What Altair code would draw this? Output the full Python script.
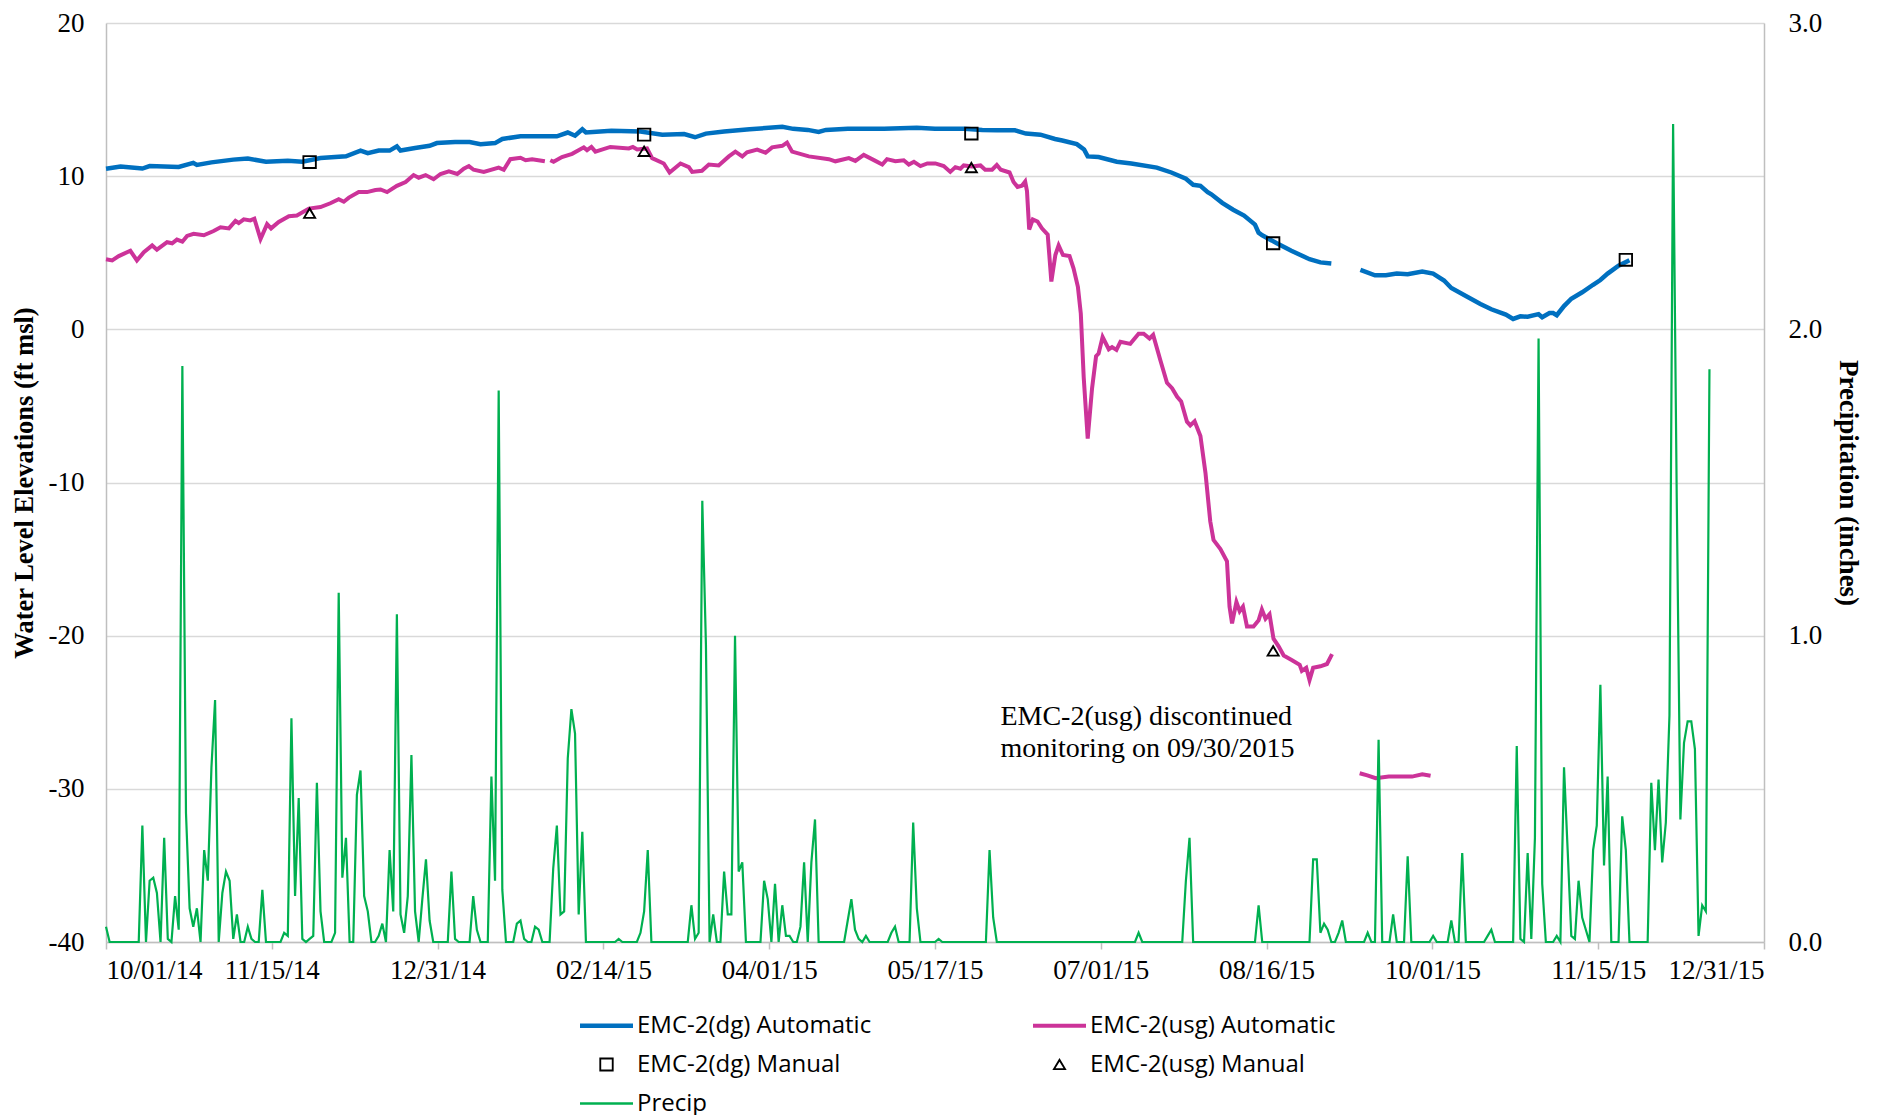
import altair as alt
import pandas as pd

# ---------------- data (x = days since 10/01/2014) ----------------
# legend order: column 1 then column 2
SERIES = ["EMC-2(dg) Automatic", "EMC-2(dg) Manual", "Precip",
          "EMC-2(usg) Automatic", "EMC-2(usg) Manual"]
SERIES_COLORS = ["#0070C0", "#000000", "#00B050", "#CC3399", "#000000"]

TICK_DAYS = [0, 45.6, 91.2, 136.8, 182.4, 228, 273.6, 319.2, 364.8, 410.4, 456]
TICK_LABELS = ["10/01/14", "11/15/14", "12/31/14", "02/14/15", "04/01/15", "05/17/15",
               "07/01/15", "08/16/15", "10/01/15", "11/15/15", "12/31/15"]

dg_auto_day_1 = [0, 4, 10, 12, 20, 24, 25, 29, 35, 39, 44, 50, 54, 59, 66, 70, 72, 75, 78, 80,
                 81, 85, 89, 91, 96, 100, 103, 107, 109, 114, 124, 127, 129, 131, 132, 139, 147,
                 153, 159, 162, 165, 170, 177, 186, 189, 193, 196, 198, 204, 214, 223, 228, 236,
                 241, 245, 250, 253, 257, 261, 263, 267, 269, 270, 273, 278, 282, 289, 293, 297,
                 299, 301, 303, 304, 307, 310, 313, 316, 317, 318, 322, 326, 331, 334, 337]
dg_auto_val_1 = [10.49, 10.63, 10.5, 10.66, 10.6, 10.87, 10.73, 10.9, 11.08, 11.15, 10.94, 11.0,
                 10.94, 11.18, 11.3, 11.67, 11.5, 11.67, 11.67, 11.95, 11.67, 11.84, 11.98, 12.16,
                 12.23, 12.23, 12.09, 12.16, 12.43, 12.6, 12.6, 12.85, 12.64, 13.06, 12.85, 12.96,
                 12.92, 12.71, 12.75, 12.54, 12.78, 12.92, 13.06, 13.23, 13.09, 13.02, 12.89, 13.02,
                 13.09, 13.09, 13.16, 13.09, 13.09, 13.02, 12.99, 12.99, 12.78, 12.71, 12.43, 12.33,
                 12.09, 11.74, 11.29, 11.25, 10.94, 10.83, 10.56, 10.24, 9.83, 9.44, 9.37, 8.96,
                 8.82, 8.26, 7.81, 7.43, 6.84, 6.31, 6.14, 5.62, 5.13, 4.58, 4.37, 4.3]
dg_auto_day_2 = [345, 349, 352, 355, 358, 362, 365, 368, 370, 374, 378, 381, 385, 387, 389, 391,
                 394, 395, 397, 398, 399, 401, 403, 406, 409, 411, 413, 416, 419]
dg_auto_val_2 = [3.88, 3.53, 3.53, 3.64, 3.6, 3.78, 3.64, 3.19, 2.7, 2.18, 1.66, 1.31, 0.96, 0.68,
                 0.85, 0.82, 0.99, 0.79, 1.06, 1.06, 0.92, 1.52, 2.0, 2.42, 2.91, 3.22, 3.64, 4.16,
                 4.51]

usg_auto_day_1 = [0, 1.7, 3.5, 6.7, 8.5, 10.4, 12.7, 14, 16.8, 18.2, 19.5, 21, 22.3, 24.1, 26.9,
                  29.6, 31.5, 33.8, 35.6, 36.5, 37.9, 39.7, 40.8, 42.5, 44.3, 45.4, 47.5, 50.3,
                  52.5, 55.8, 59, 61.7, 64, 65.4, 66.8, 69.5, 71.8, 74.1, 75.5, 77.3, 80, 82.4,
                  84.6, 86, 87.9, 90.1, 92, 94.3, 96.6, 98.4, 99.8, 101.1, 103.9, 108, 109.4,
                  111.2, 114, 115.4, 117.2, 120.7]
usg_auto_val_1 = [4.58, 4.5, 4.78, 5.13, 4.5, 5.03, 5.48, 5.2, 5.69, 5.62, 5.86, 5.72, 6.1, 6.24,
                  6.14, 6.42, 6.66, 6.59, 7.08, 6.94, 7.18, 7.11, 7.22, 5.9, 6.87, 6.59, 7.01, 7.39,
                  7.43, 7.88, 7.98, 8.23, 8.5, 8.33, 8.6, 8.96, 8.96, 9.1, 9.13, 8.96, 9.37, 9.62,
                  10.07, 9.9, 10.07, 9.8, 10.14, 10.31, 10.14, 10.49, 10.66, 10.42, 10.28, 10.56,
                  10.42, 11.11, 11.2, 11.04, 11.11, 10.97]
usg_auto_day_2 = [122.2, 123.1, 125.4, 128.2, 131.4, 132.3, 133.5, 134.6, 138.7, 143.8, 144.9,
                  146.1, 148.8, 150.2, 153.4, 155, 158, 160.3, 161.2, 163.9, 165.8, 168.5, 171.3,
                  173.1, 175, 176.3, 179.1, 181.4, 183.2, 186, 187.3, 188.7, 193.3, 198.8, 200.6,
                  204.3, 206.1, 208.4, 211.6, 213.5, 214.8, 217.1, 219.4, 220.8, 222.2, 224, 225.9,
                  228.1, 230.4, 232.2, 233.6, 235, 235.9, 238.2, 240.5, 241.8, 243.7, 245, 246.1,
                  248.5, 249.6, 250.7, 251.9, 252.8, 253.3, 253.9, 254.9, 256.2, 257.4, 259, 260,
                  261.1, 262, 263.2, 265, 266.1, 267.3, 268.1, 268.9, 270, 271.2, 272.3, 273,
                  274.1, 275.8, 276.7, 277.9, 279, 281.7, 284, 285.4, 287, 288, 290, 291.8, 293.2,
                  294.6, 295.7, 297.3, 298.2, 299.4, 301, 302.4, 303.7, 304.6, 306.5, 308.3, 309,
                  309.7, 310.9, 311.8, 312.7, 313.8, 315.6, 317, 317.9, 318.9, 320, 321.1, 322.5,
                  323.9, 326.2, 328.3, 328.9, 330.1, 331, 332, 334, 335.8, 337.2]
usg_auto_val_2 = [11.04, 10.94, 11.25, 11.46, 11.88, 11.7, 11.91, 11.6, 11.91, 11.81, 11.91, 11.74,
                  11.81, 11.18, 10.83, 10.24, 10.83, 10.59, 10.28, 10.35, 10.76, 10.7, 11.29, 11.6,
                  11.29, 11.56, 11.74, 11.53, 11.88, 11.98, 12.19, 11.6, 11.29, 11.11, 10.97,
                  11.18, 11.0, 11.39, 11.0, 10.76, 11.11, 10.97, 11.04, 10.76, 10.94, 10.66,
                  10.83, 10.83, 10.66, 10.28, 10.59, 10.49, 10.7, 10.63, 10.7, 10.42, 10.42,
                  10.73, 10.42, 10.24, 9.62, 9.3, 9.37, 9.65, 9.03, 6.52, 7.18, 7.04, 6.59, 6.18,
                  3.12, 4.85, 5.48, 4.85, 4.78, 3.98, 2.77, 1.03, -3.14, -7.14, -3.84, -1.75,
                  -1.58, -0.5, -1.3, -1.16, -1.34, -0.81, -0.95, -0.29, -0.29, -0.6, -0.36, -2.03,
                  -3.49, -3.84, -4.4, -4.71, -6.03, -6.27, -6.0, -6.97, -9.4, -12.53, -13.75,
                  -14.34, -15.14, -18.1, -19.2, -17.8, -18.4, -18.1, -19.4, -19.4, -19.0, -18.3,
                  -18.9, -18.6, -20.2, -20.7, -21.3, -21.6, -21.9, -22.3, -22.1, -22.9, -22.1,
                  -22.0, -21.85, -21.2]
usg_auto_day_3 = [344.8, 346.9, 349.2, 352.8, 356.5, 359.2, 362, 364.3]
usg_auto_val_3 = [-28.98, -29.12, -29.3, -29.2, -29.2, -29.2, -29.05, -29.15]

dg_manual_day = [56, 148, 238, 321, 418]
dg_manual_val = [10.92, 12.71, 12.78, 5.62, 4.54]
usg_manual_day = [56, 148, 238, 321]
usg_manual_val = [7.58, 11.62, 10.56, -21.0]

PRECIP_LAST_DAY = 441
precip_rain_day = [0, 10, 12, 13, 14, 16, 17, 19, 20, 21, 22, 23, 24, 25, 27, 28, 29, 30, 32, 33,
                   34, 35, 36, 39, 40, 43, 49, 50, 51, 52, 53, 54, 56, 57, 58, 59, 63, 64, 65, 66,
                   69, 70, 71, 72, 75, 76, 78, 79, 80, 81, 82, 83, 84, 85, 87, 88, 89, 95, 96, 101,
                   102, 106, 107, 108, 109, 113, 114, 115, 118, 119, 123, 124, 125, 126, 127, 128,
                   129, 130, 131, 141, 147, 148, 149, 161, 162, 163, 164, 165, 167, 170, 171, 172,
                   173, 174, 175, 181, 182, 184, 186, 187, 188, 191, 192, 194, 195, 204, 205, 206,
                   207, 209, 216, 217, 222, 223, 229, 243, 244, 284, 297, 298, 317, 332, 333, 334,
                   335, 336, 339, 340, 347, 350, 354, 358, 365, 370, 373, 380, 381, 388, 389, 391,
                   392, 393, 394, 395, 399, 401, 402, 403, 404, 405, 406, 407, 409, 410, 411, 412,
                   413, 417, 418, 425, 426, 427, 428, 429, 430, 431, 432, 433, 434, 435, 436, 437,
                   438, 439, 440, 441]
precip_rain_in = [0.05, 0.38, 0.20, 0.21, 0.16, 0.34, 0.01, 0.15, 0.04, 1.88, 0.42, 0.11, 0.05,
                  0.11, 0.30, 0.20, 0.57, 0.79, 0.16, 0.23, 0.20, 0.01, 0.09, 0.05, 0.01, 0.17,
                  0.03, 0.02, 0.73, 0.15, 0.47, 0.01, 0.01, 0.02, 0.52, 0.10, 0.03, 1.14, 0.21,
                  0.34, 0.48, 0.56, 0.15, 0.10, 0.02, 0.06, 0.30, 0.10, 1.07, 0.09, 0.03, 0.15,
                  0.61, 0.10, 0.14, 0.27, 0.07, 0.23, 0.01, 0.15, 0.04, 0.54, 0.20, 1.80, 0.17,
                  0.06, 0.07, 0.01, 0.05, 0.04, 0.24, 0.38, 0.09, 0.10, 0.60, 0.76, 0.68, 0.09,
                  0.36, 0.01, 0.03, 0.10, 0.30, 0.12, 0.01, 0.03, 1.44, 0.97, 0.09, 0.23, 0.09,
                  0.09, 1.00, 0.23, 0.26, 0.20, 0.14, 0.19, 0.12, 0.02, 0.02, 0.05, 0.26, 0.26,
                  0.40, 0.07, 0.14, 0.04, 0.01, 0.02, 0.03, 0.05, 0.39, 0.11, 0.01, 0.30, 0.08,
                  0.03, 0.20, 0.34, 0.12, 0.27, 0.27, 0.03, 0.06, 0.04, 0.03, 0.07, 0.03, 0.66,
                  0.09, 0.28, 0.02, 0.07, 0.29, 0.02, 0.04, 0.64, 0.01, 0.29, 0.01, 0.34, 1.97,
                  0.19, 0.02, 0.57, 0.30, 0.02, 0.01, 0.20, 0.08, 0.04, 0.30, 0.38, 0.84, 0.25,
                  0.54, 0.41, 0.30, 0.52, 0.30, 0.53, 0.26, 0.39, 0.74, 2.67, 1.45, 0.40, 0.65,
                  0.72, 0.72, 0.63, 0.02, 0.12, 0.10, 1.87]

NOTE_DAY = 246
NOTE_VAL = -25.85
NOTE_TEXT = "EMC-2(usg) discontinued\nmonitoring on 09/30/2015"

# ---------------- tables ----------------
dg_auto = pd.DataFrame({
    "day": dg_auto_day_1 + dg_auto_day_2,
    "value": dg_auto_val_1 + dg_auto_val_2,
    "seg": [1] * len(dg_auto_day_1) + [2] * len(dg_auto_day_2),
})
usg_auto = pd.DataFrame({
    "day": usg_auto_day_1 + usg_auto_day_2 + usg_auto_day_3,
    "value": usg_auto_val_1 + usg_auto_val_2 + usg_auto_val_3,
    "seg": [1] * len(usg_auto_day_1) + [2] * len(usg_auto_day_2) + [3] * len(usg_auto_day_3),
})
manual = pd.DataFrame({
    "day": dg_manual_day + usg_manual_day,
    "value": dg_manual_val + usg_manual_val,
    "series": ["EMC-2(dg) Manual"] * len(dg_manual_day)
              + ["EMC-2(usg) Manual"] * len(usg_manual_day),
})
rain = dict(zip(precip_rain_day, precip_rain_in))
precip = pd.DataFrame({
    "day": list(range(PRECIP_LAST_DAY + 1)),
    "inches": [rain.get(d, 0.0) for d in range(PRECIP_LAST_DAY + 1)],
})
note = pd.DataFrame({"day": [NOTE_DAY], "value": [NOTE_VAL], "label": [NOTE_TEXT]})

# ---------------- styling ----------------
SERIF = "Liberation Serif"
GRID = "#D9D9D9"
AXISC = "#BFBFBF"

# symbol paths (unit box -1..1): filled bars for lines, rings for the manual markers
SHAPE_OF = {
    "EMC-2(dg) Automatic": "M-1,-0.085H1V0.085H-1Z",
    "EMC-2(usg) Automatic": "M-1,-0.075H1V0.075H-1Z",
    "EMC-2(dg) Manual": "M-0.27,-0.26H0.27V0.26H-0.27Z M-0.2,-0.19V0.19H0.2V-0.19Z",
    "EMC-2(usg) Manual": "M0,-0.25L0.27,0.21L-0.27,0.21Z M0,-0.105L-0.15,0.14L0.15,0.14Z",
    "Precip": "M-1,-0.047H1V0.047H-1Z",
}
SHAPES = [SHAPE_OF[s] for s in SERIES]
SYM_SIZE = 2809

label_array = "[" + ",".join("'%s'" % t for t in TICK_LABELS) + "]"
x_enc = alt.X(
    "day:Q",
    scale=alt.Scale(domain=[0, 456], nice=False, zero=False),
    axis=alt.Axis(
        values=TICK_DAYS,
        labelExpr=label_array + "[round(datum.index * %d)]" % (len(TICK_LABELS) - 1),
        title=None, grid=False, tickSize=7, tickColor=AXISC, tickWidth=1.5,
        domainColor=AXISC, domainWidth=1.5, labelFont=SERIF, labelFontSize=27,
        labelColor="black", labelPadding=8, labelOverlap=False,
    ),
)
y_left = alt.Y(
    "value:Q",
    scale=alt.Scale(domain=[-40, 20], nice=False, zero=False),
    axis=alt.Axis(
        values=[-40, -30, -20, -10, 0, 10, 20], orient="left",
        labelExpr="'' + datum.value",
        title="Water Level Elevations (ft msl)", titleFont=SERIF, titleFontSize=26.5,
        titleFontWeight="bold", titleColor="black", titlePadding=10,
        labelFont=SERIF, labelFontSize=27, labelColor="black", labelPadding=22,
        ticks=False, domainColor=AXISC, domainWidth=1.5,
        grid=True, gridColor=GRID, gridWidth=1.5,
    ),
)

blue = alt.Chart(dg_auto).mark_line(color="#0070C0", strokeWidth=4.5).encode(
    x=x_enc, y=y_left, detail="seg:N")
magenta = alt.Chart(usg_auto).mark_line(color="#CC3399", strokeWidth=4).encode(
    x=x_enc, y=y_left, detail="seg:N")
markers = alt.Chart(manual).mark_point(filled=True, opacity=1, size=SYM_SIZE).encode(
    x=x_enc, y=y_left,
    color=alt.Color("series:N", title=None,
                    scale=alt.Scale(domain=SERIES, range=SERIES_COLORS)),
    shape=alt.Shape("series:N", title=None,
                    scale=alt.Scale(domain=SERIES, range=SHAPES)),
)
text = alt.Chart(note).mark_text(
    align="left", baseline="alphabetic", font=SERIF, fontSize=28, lineHeight=32,
    color="black", lineBreak="\n",
).encode(x=x_enc, y=y_left, text="label:N")

left = alt.layer(blue, magenta, markers, text)

rain_line = alt.Chart(precip).mark_line(color="#00B050", strokeWidth=2.2).encode(
    x=x_enc,
    y=alt.Y(
        "inches:Q",
        scale=alt.Scale(domain=[0, 3], nice=False, zero=False),
        axis=alt.Axis(
            values=[0, 1, 2, 3], format=".1f", orient="right",
            title="Precipitation (inches)", titleFont=SERIF, titleFontSize=27,
            titleFontWeight="bold", titleColor="black", titlePadding=12,
            labelFont=SERIF, labelFontSize=27, labelColor="black", labelPadding=24,
            ticks=False, domainColor=AXISC, domainWidth=1.5, grid=False,
        ),
    ),
)

chart = alt.layer(left, rain_line).resolve_scale(y="independent").properties(
    width=1658, height=919,
    padding={"left": 3, "top": 1, "right": 5, "bottom": 0},
    background="white",
).configure_view(strokeWidth=0).configure_legend(
    orient="none", legendX=474, legendY=976, columns=2, columnPadding=161,
    rowPadding=-1, padding=0,
    labelFont="Open Sans", labelFontSize=24, labelColor="black", labelOffset=4,
    labelLimit=500, symbolSize=SYM_SIZE, symbolStrokeWidth=0, symbolOpacity=1,
)

chart.save("out.html", embed_options={"renderer": "svg", "actions": False})
